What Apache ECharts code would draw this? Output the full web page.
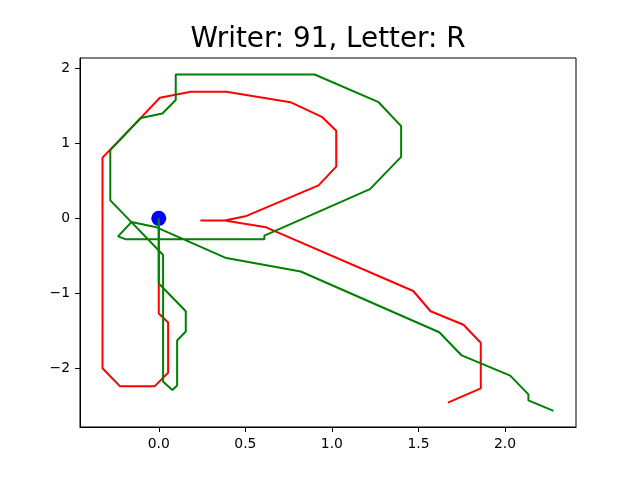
<!DOCTYPE html>
<html>
<head>
<meta charset="utf-8">
<script src="https://cdn.jsdelivr.net/npm/echarts@6/dist/echarts.min.js"></script>
<style>
  html, body { margin: 0; padding: 0; background: #fff; }
  #chart { width: 640px; height: 480px; }
</style>
</head>
<body>
<div id="chart"></div>
<script>
// pen trajectory, red stroke
const redX = [0, 0, 0.054, 0.054, -0.023, -0.225, -0.325, -0.325, -0.104, 0.006, 0.185, 0.39, 0.76, 0.945, 1.025, 1.025, 0.923, 0.50, 0.38, 0.24, 0.38, 0.62, 1.47, 1.57, 1.76, 1.86, 1.86, 1.67];
const redY = [0, -1.27, -1.39, -2.06, -2.24, -2.24, -2.00, 0.81, 1.34, 1.61, 1.69, 1.69, 1.55, 1.35, 1.17, 0.69, 0.44, 0.027, -0.03, -0.03, -0.03, -0.12, -0.97, -1.24, -1.42, -1.66, -2.27, -2.46];

// green stroke
const greenX = [0, 0, 0.156, 0.156, 0.106, 0.106, 0.079, 0.025, 0.025, -0.158, -0.28, -0.28, -0.104, 0.021, 0.098, 0.098, 0.90, 1.27, 1.40, 1.40, 1.22, 0.61, 0.61, -0.19, -0.235, -0.158, -0.013, 0.39, 0.82, 1.62, 1.75, 2.03, 2.135, 2.135, 2.28];
const greenY = [0, -0.87, -1.24, -1.51, -1.63, -2.23, -2.29, -2.18, -0.49, -0.05, 0.24, 0.91, 1.34, 1.40, 1.58, 1.92, 1.92, 1.55, 1.23, 0.82, 0.39, -0.23, -0.28, -0.28, -0.24, -0.05, -0.12, -0.53, -0.71, -1.52, -1.83, -2.10, -2.35, -2.43, -2.57];

const startPoint = [0, 0];
const xTicks = [0, 0.5, 1.0, 1.5, 2.0];
const yTicks = [-2, -1, 0, 1, 2];

const toPairs = (xs, ys) => xs.map((x, i) => [x, ys[i]]);

const chart = echarts.init(document.getElementById('chart'));

const axisCommon = {
  type: 'value',
  splitLine: { show: false },
  axisLine: { show: true, onZero: false, lineStyle: { color: '#000', width: 1 } },
  axisTick: { show: true, length: 5, lineStyle: { color: '#000', width: 1 } },
  axisLabel: { color: '#000', fontSize: 13.9, fontFamily: 'DejaVu Sans', margin: 10 }
};

chart.setOption({
  animation: false,
  backgroundColor: '#fff',
  title: {
    text: 'Writer: 91, Letter: R',
    left: 328,
    top: 26,
    padding: 0,
    textAlign: 'center',
    textStyle: { fontFamily: 'DejaVu Sans', fontSize: 27.8, fontWeight: 'normal', color: '#000' }
  },
  grid: {
    left: 80, right: 64, top: 58, bottom: 53,
    show: true, borderColor: '#000', borderWidth: 1
  },
  xAxis: Object.assign({}, axisCommon, {
    min: -0.455, max: 2.41,
    axisTick: Object.assign({}, axisCommon.axisTick, { customValues: xTicks }),
    axisLabel: Object.assign({}, axisCommon.axisLabel, {
      customValues: xTicks,
      formatter: v => v.toFixed(1)
    })
  }),
  yAxis: Object.assign({}, axisCommon, {
    min: -2.785, max: 2.14,
    axisTick: Object.assign({}, axisCommon.axisTick, { customValues: yTicks }),
    axisLabel: Object.assign({}, axisCommon.axisLabel, {
      customValues: yTicks,
      formatter: v => (v < 0 ? '\u2212' + Math.abs(v) : String(v))
    })
  }),
  series: [
    {
      type: 'scatter',
      data: [startPoint],
      symbolSize: 15,
      itemStyle: { color: '#0000ff', opacity: 1 },
      z: 1
    },
    {
      type: 'line',
      data: toPairs(redX, redY),
      showSymbol: false,
      lineStyle: { color: '#ff0000', width: 2 },
      z: 2
    },
    {
      type: 'line',
      data: toPairs(greenX, greenY),
      showSymbol: false,
      lineStyle: { color: '#008000', width: 2 },
      z: 3
    }
  ]
});
</script>
</body>
</html>
